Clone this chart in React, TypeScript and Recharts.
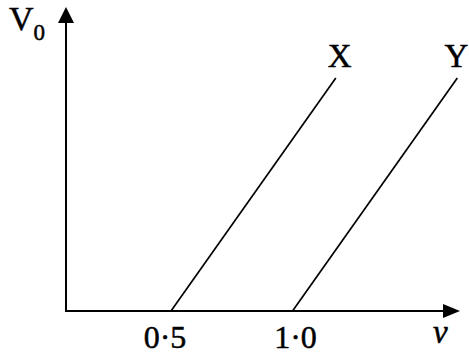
import { LineChart, Line, XAxis, YAxis, ReferenceLine, LabelList } from 'recharts'

// photoelectric-style sketch: stopping voltage against frequency for two metals
const vRange = [0.068, 1.689]
const v0Range = [0, 2.61]
const xTicks = [0.5, 1.0]
const xTickLabels = ['0·5', '1·0']

const seriesX = [
  { v: 0.5, V0: 0 },
  { v: 1.178, V0: 2 },
]
const seriesY = [
  { v: 1.0, V0: 0 },
  { v: 1.678, V0: 2 },
]

const FONT = '"Liberation Serif", "Times New Roman", serif'
// a hairline outline gives the serif glyphs a little more weight
const ink = { fill: '#000', stroke: '#000', strokeWidth: 0.5 }

function AxisArrow(props: any) {
  const { x1, y1, x2, y2, name } = props
  const horizontal = Math.abs(y2 - y1) < 1
  if (horizontal) {
    const tipX = Math.max(x1, x2)
    const y = y1
    return (
      <g>
        <line x1={Math.min(x1, x2) - 1} y1={y} x2={tipX - 12} y2={y} stroke="#000" strokeWidth={2} />
        <polygon points={`${tipX},${y} ${tipX - 17},${y - 7} ${tipX - 17},${y + 7}`} fill="#000" />
        <text x={tipX - 27} y={y + 32} fontFamily={FONT} fontStyle="italic" fontSize={33} {...ink}>
          {name}
        </text>
      </g>
    )
  }
  const tipY = Math.min(y1, y2)
  const x = x1
  return (
    <g>
      <line x1={x} y1={Math.max(y1, y2)} x2={x} y2={tipY + 12} stroke="#000" strokeWidth={2} />
      <polygon points={`${x},${tipY} ${x - 8},${tipY + 16} ${x + 8},${tipY + 16}`} fill="#000" />
      <text x={x - 57} y={tipY + 23} fontFamily={FONT} fontSize={34} {...ink}>
        V<tspan fontSize={23} dy={10}>0</tspan>
      </text>
    </g>
  )
}

function EndLabel(name: string, dx: number) {
  return (props: any) => {
    const { x, y, index } = props
    if (index !== 1) return null
    return (
      <text x={x + dx} y={y - 11} textAnchor="middle" fontFamily={FONT} fontSize={33} {...ink}>
        {name}
      </text>
    )
  }
}

const tickShift = [-6, 3]

function VTick(props: any) {
  const { x, y, payload } = props
  const i = xTicks.indexOf(payload.value)
  return (
    <text x={x + tickShift[i]} y={y} dy={29} textAnchor="middle" fontFamily={FONT} fontSize={32} {...ink}>
      {xTickLabels[i]}
    </text>
  )
}

export default function App() {
  return (
    <div style={{ position: 'absolute', left: 0, top: 0, background: '#fff' }}>
      <LineChart width={469} height={359} margin={{ top: 7, right: 9, left: 66, bottom: 0 }}>
        <XAxis
          type="number"
          dataKey="v"
          domain={vRange}
          ticks={xTicks}
          allowDataOverflow
          axisLine={false}
          tickLine={false}
          tick={<VTick />}
          height={48}
        />
        <YAxis type="number" dataKey="V0" domain={v0Range} allowDataOverflow hide />
        <ReferenceLine
          segment={[
            { x: vRange[0], y: 0 },
            { x: vRange[1], y: 0 },
          ]}
          ifOverflow="visible"
          shape={(p: any) => <AxisArrow {...p} name="v" />}
        />
        <ReferenceLine
          segment={[
            { x: vRange[0], y: 0 },
            { x: vRange[0], y: v0Range[1] },
          ]}
          ifOverflow="visible"
          shape={(p: any) => <AxisArrow {...p} name="V0" />}
        />
        <Line
          data={seriesX}
          dataKey="V0"
          stroke="#000"
          strokeWidth={1.7}
          dot={false}
          isAnimationActive={false}
        >
          <LabelList dataKey="V0" content={EndLabel('X', 4)} />
        </Line>
        <Line
          data={seriesY}
          dataKey="V0"
          stroke="#000"
          strokeWidth={1.7}
          dot={false}
          isAnimationActive={false}
        >
          <LabelList dataKey="V0" content={EndLabel('Y', -1)} />
        </Line>
      </LineChart>
    </div>
  )
}
